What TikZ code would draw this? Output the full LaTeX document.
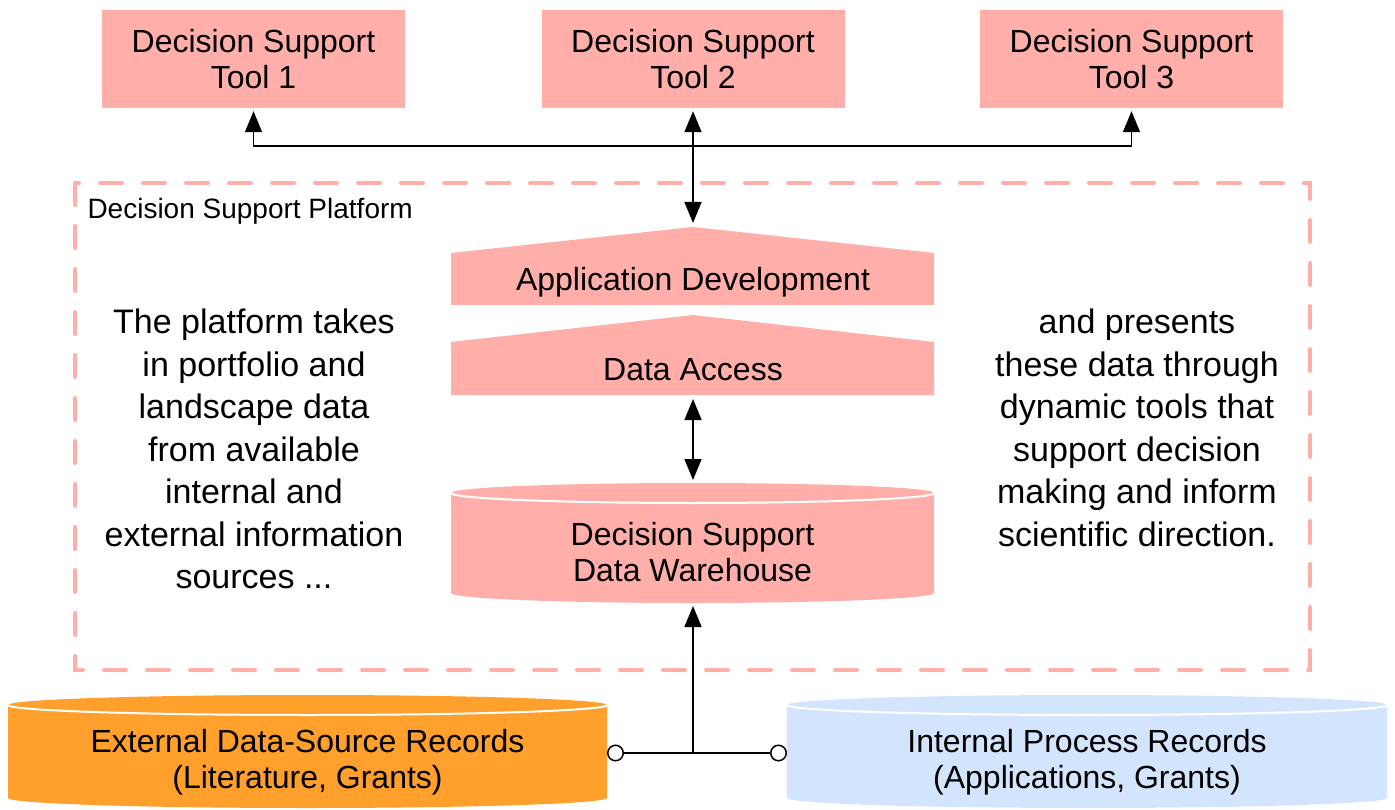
\documentclass[tikz,border=0pt]{standalone}
\usepackage{fontspec}
\setmainfont{Liberation Sans}
\usetikzlibrary{arrows.meta}
\definecolor{dspink}{HTML}{FFAEA9}
\definecolor{extorange}{HTML}{FF9F2C}
\definecolor{intblue}{HTML}{D2E5FC}

\begin{document}
\begin{tikzpicture}[x=1pt,y=-1pt,
  toolbox/.style={fill=dspink, minimum width=303pt, minimum height=98pt, align=center, font=\fontsize{32}{36}\selectfont},
  boxtext/.style={align=center, font=\fontsize{32}{36}\selectfont},
  story/.style={align=center, font=\fontsize{34}{42.5}\selectfont},
  link/.style={line width=1.5pt, -{Triangle[length=21pt,width=17pt]}},
  twoway/.style={line width=1.5pt, {Triangle[length=21pt,width=17pt]}-{Triangle[length=21pt,width=17pt]}}
]
\useasboundingbox (0,0) rectangle (1395,810);

% tools on top
\node[toolbox] (tool1) at (253.5,59) {Decision Support\\Tool 1};
\node[toolbox] (tool2) at (693,59) {Decision Support\\Tool 2};
\node[toolbox] (tool3) at (1131.5,59) {Decision Support\\Tool 3};

% platform frame
\draw[dspink, line width=4pt, line cap=round, dash pattern=on 22pt off 21pt] (75,183) rectangle (1310,670);
\node[anchor=west, font=\fontsize{28}{32}\selectfont] (platform) at (84,211) {Decision Support Platform};

% layers
\fill[dspink] (451,305) -- (451,253) -- (693,227) -- (934,253) -- (934,305) -- cycle;
\fill[dspink] (451,395) -- (451,342) -- (693,315) -- (934,342) -- (934,395) -- cycle;
\node[boxtext] (appdev) at (693,282) {Application Development};
\node[boxtext] (access) at (693,370) {Data Access};
\coordinate (apptop) at (693,227);
\coordinate (accbot) at (693,395);

% cylinders
\fill[dspink] (451,493) -- (451,593) arc[start angle=180, end angle=360, x radius=241.5pt, y radius=10pt]
  -- (934,493) arc[start angle=0, end angle=180, x radius=241.5pt, y radius=10pt] -- cycle;
\draw[white, line width=2pt] (451,493) arc[start angle=180, end angle=360, x radius=241.5pt, y radius=10pt];
\node[boxtext] (warehouse) at (692.5,552) {Decision Support\\Data Warehouse};
\coordinate (whtop) at (693,483);
\coordinate (whbot) at (693,603);

\fill[extorange] (8,705) -- (8,798) arc[start angle=180, end angle=360, x radius=299.5pt, y radius=10pt]
  -- (607,705) arc[start angle=0, end angle=180, x radius=299.5pt, y radius=10pt] -- cycle;
\draw[white, line width=2pt] (8,705) arc[start angle=180, end angle=360, x radius=299.5pt, y radius=10pt];
\node[boxtext] (external) at (307.5,762) {External Data-Source Records\\(Literature, Grants)};

\fill[intblue] (787,705) -- (787,798) arc[start angle=180, end angle=360, x radius=300pt, y radius=10pt]
  -- (1387,705) arc[start angle=0, end angle=180, x radius=300pt, y radius=10pt] -- cycle;
\draw[white, line width=2pt] (787,705) arc[start angle=180, end angle=360, x radius=300pt, y radius=10pt];
\node[boxtext] (internal) at (1087,762) {Internal Process Records\\(Applications, Grants)};

% side texts
\node[story] (takesin) at (254,449) {The platform takes\\in portfolio and\\landscape data\\from available\\internal and\\external information\\sources ...};
\node[story] (presents) at (1137,428) {and presents\\these data through\\dynamic tools that\\support decision\\making and inform\\scientific direction.};

% connectors
\coordinate (fork) at (693,146);
\coordinate (join) at (693,753);
\coordinate (extedge) at (607,753);
\coordinate (intedge) at (787,753);
\draw[link, shorten >=3pt] (fork) -| (tool1.south);
\draw[link, shorten >=3pt] (fork) -| (tool3.south);
\draw[twoway, shorten <=3pt, shorten >=4pt] (tool2.south) -- (apptop);
\draw[twoway, shorten <=4pt, shorten >=3pt] (accbot) -- (whtop);
\draw[link, shorten >=3pt] (join) -- (whbot);
\draw[line width=1.5pt, {Circle[open,length=17pt,fill=white]}-{Circle[open,length=17pt,fill=white]}] (extedge) -- (intedge);
\end{tikzpicture}
\end{document}
